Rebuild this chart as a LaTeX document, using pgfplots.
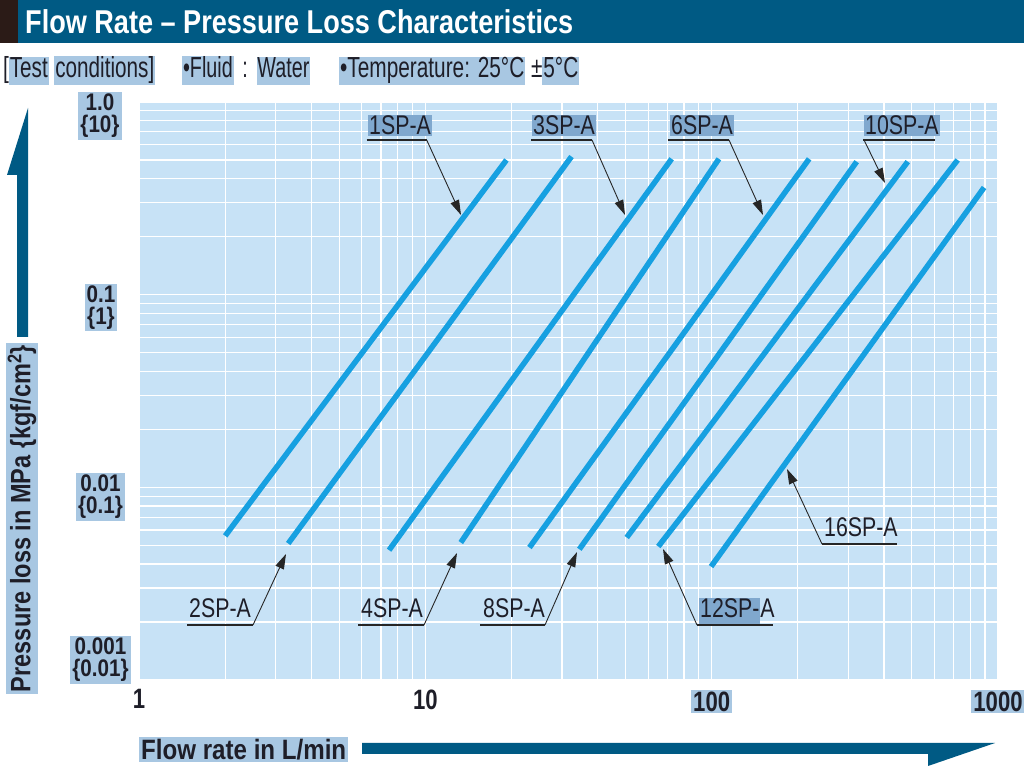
\documentclass[border=0pt]{standalone}
\usepackage{fontspec}
\usepackage{graphicx}
\usepackage{xcolor}
\usepackage{pgfplots}
\pgfplotsset{compat=1.18}
\usetikzlibrary{arrows.meta}
\setmainfont{Liberation Sans}[FakeStretch=0.79]
\newfontfamily\cnd{Liberation Sans}[FakeStretch=0.79]
\newfontfamily\ynum{Liberation Sans}[FakeStretch=0.86]
\definecolor{titlebg}{RGB}{0,90,132}
\definecolor{darksq}{RGB}{43,27,23}
\definecolor{plotbg}{RGB}{199,226,246}
\definecolor{linec}{RGB}{22,160,225}
\definecolor{hlw}{RGB}{168,199,226}
\definecolor{hlp}{RGB}{128,168,206}
\definecolor{txt}{RGB}{30,30,40}
\newcommand\hl[1]{{\setlength{\fboxsep}{1pt}\colorbox{hlw}{\vphantom{Tg}#1}}}
\newcommand\hlp[1]{{\setlength{\fboxsep}{1pt}\colorbox{hlp}{\vphantom{Tg}#1}}}
\newcommand\hlb[1]{{\setlength{\fboxsep}{2pt}\colorbox{hlw}{#1}}}
\pgfplotsset{sp/.style={color=linec, line width=5.5pt, line cap=butt, solid, mark=none}}
\begin{document}
\begin{tikzpicture}[x=1pt,y=1pt]
\useasboundingbox (0,0) rectangle (1024,778);
\fill[white] (0,0) rectangle (1024,778);
% title bar
\fill[titlebg] (0,735) rectangle (1024,778);
\fill[darksq] (0,735) rectangle (18,778);
\node[anchor=west, text=white, inner sep=0pt] at (25,756.5)
  {\resizebox{548pt}{\height}{\bfseries\fontsize{33}{33}\selectfont Flow Rate -- Pressure Loss Characteristics}};
% test conditions
\begin{scope}[every node/.style={anchor=base west, inner sep=0pt, text=txt}]
\node at (3,700) {\resizebox{152pt}{\height}{\fontsize{29}{29}\selectfont [\hl{Test} \hl{conditions]}}};
\node at (182,700) {\resizebox{128pt}{\height}{\fontsize{29}{29}\selectfont \hl{•Fluid}\hspace{0.35em}:\hspace{0.35em}\hl{Water}}};
\node at (339,700) {\resizebox{240pt}{\height}{\fontsize{29}{29}\selectfont \hl{•Temperature: 25°C} ±\hl{5°C}}};
\end{scope}

\begin{axis}[
  at={(139pt,98pt)}, anchor=south west,
  scale only axis, width=859pt, height=578pt,
  xmode=log, ymode=log, xmin=1, xmax=1000, ymin=0.001, ymax=1,
  axis background/.style={fill=plotbg},
  axis line style={draw=none},
  major tick length=0pt, minor tick length=0pt,
  grid=both,
  major grid style={white, line width=1.3pt},
  minor grid style={white, line width=1.2pt},
  xtick={1,10,100,1000},
  minor xtick={2,3,4,5,6,7,8,9,20,30,40,50,60,70,80,90,200,300,400,500,600,700,800,900},
  xticklabels={1,10,\hlb{100},\hlb{1000}},
  xticklabel style={font=\cnd\bfseries\fontsize{28}{28}\selectfont, text=txt, yshift=-6pt},
  ytick={0.001,0.01,0.1,1},
  minor ytick={0.002,0.003,0.004,0.005,0.006,0.007,0.008,0.009,0.02,0.03,0.04,0.05,0.06,0.07,0.08,0.09,0.2,0.3,0.4,0.5,0.6,0.7,0.8,0.9},
  yticklabels={},
]
\addplot[sp] coordinates {(2.00,0.0056) (19.2,0.50)};   % 1SP-A
\addplot[sp] coordinates {(3.32,0.00511) (32.4,0.521)}; % 2SP-A
\addplot[sp] coordinates {(7.47,0.00472) (72.5,0.507)}; % 3SP-A
\addplot[sp] coordinates {(13.3,0.00517) (106,0.507)};  % 4SP-A
\addplot[sp] coordinates {(23.1,0.00487) (219,0.507)};  % 6SP-A
\addplot[sp] coordinates {(34.5,0.00477) (321,0.49)};   % 8SP-A
\addplot[sp] coordinates {(50.5,0.00549) (484,0.49)};   % 10SP-A
\addplot[sp] coordinates {(65.1,0.00493) (723,0.50)};   % 12SP-A
\addplot[sp] coordinates {(99.5,0.00388) (894,0.36)};   % 16SP-A
\end{axis}

% y tick labels
\begin{scope}[every node/.style={fill=hlw, align=center, inner sep=2pt, text=txt,
   font=\ynum\bfseries\fontsize{24}{22}\selectfont}]
\node at (100,662) {1.0\\\{10\}};
\node at (101,470.5) {0.1\\\{1\}};
\node at (100.5,281) {0.01\\\{0.1\}};
\node at (100.5,118) {0.001\\\{0.01\}};
\end{scope}

% axis titles
\node[rotate=90, fill=hlw, inner sep=2pt, text=txt] at (22,259.5)
  {\resizebox{347pt}{\height}{\bfseries\fontsize{28}{28}\selectfont Pressure loss in MPa \{kgf/cm\textsuperscript{2}\}}};
\node[anchor=west, fill=hlw, inner sep=2pt, text=txt] at (139,28.5)
  {\resizebox{205pt}{\height}{\bfseries\fontsize{28}{28}\selectfont Flow rate in L/min}};
% axis arrows
\fill[titlebg] (17,441) -- (17,603) -- (7,603) -- (28,670) -- (28,441) -- cycle;
\fill[titlebg] (362,35) -- (995,35) -- (928,12) -- (928,24) -- (362,24) -- cycle;

% annotations
\begin{scope}[every node/.style={anchor=base west, inner sep=1pt, text=txt,
   font=\cnd\fontsize{27}{27}\selectfont}]
\node[fill=hlp] at (368,643) {1SP-A};
\node[fill=hlp] at (532,643) {3SP-A};
\node[fill=hlp] at (670,643) {6SP-A};
\node[fill=hlp] at (864,643) {10SP-A};
\node at (188,160) {2SP-A};
\node at (360,160) {4SP-A};
\node at (482,160) {8SP-A};
\node at (698,160) {\hlp{12SP-}A};
\node at (823,241) {16SP-A};
\end{scope}
\begin{scope}[line width=1.1pt, draw=black!85]
\draw (366.7,638) -- (426.7,638);
\draw (531,638) -- (592,638);
\draw (668,638) -- (729,638);
\draw (863,638) -- (935,638);
\draw (187,153) -- (253,153);
\draw (358,153) -- (424,153);
\draw (480,153) -- (545,153);
\draw (697,153) -- (773,153);
\draw (822,234) -- (897,234);
\end{scope}
\begin{scope}[line width=0.9pt, draw=black!85, -{Triangle[length=15pt,width=9pt]}]
\draw (426.7,638) -- (461,563);
\draw (592,638) -- (625,563);
\draw (729,638) -- (763,563);
\draw (864,638) -- (885,595);
\draw (253,153) -- (286,224);
\draw (424,153) -- (457,225);
\draw (545,153) -- (577,226);
\draw (697,153) -- (663,229);
\draw (822,234) -- (787,309);
\end{scope}
\end{tikzpicture}
\end{document}
